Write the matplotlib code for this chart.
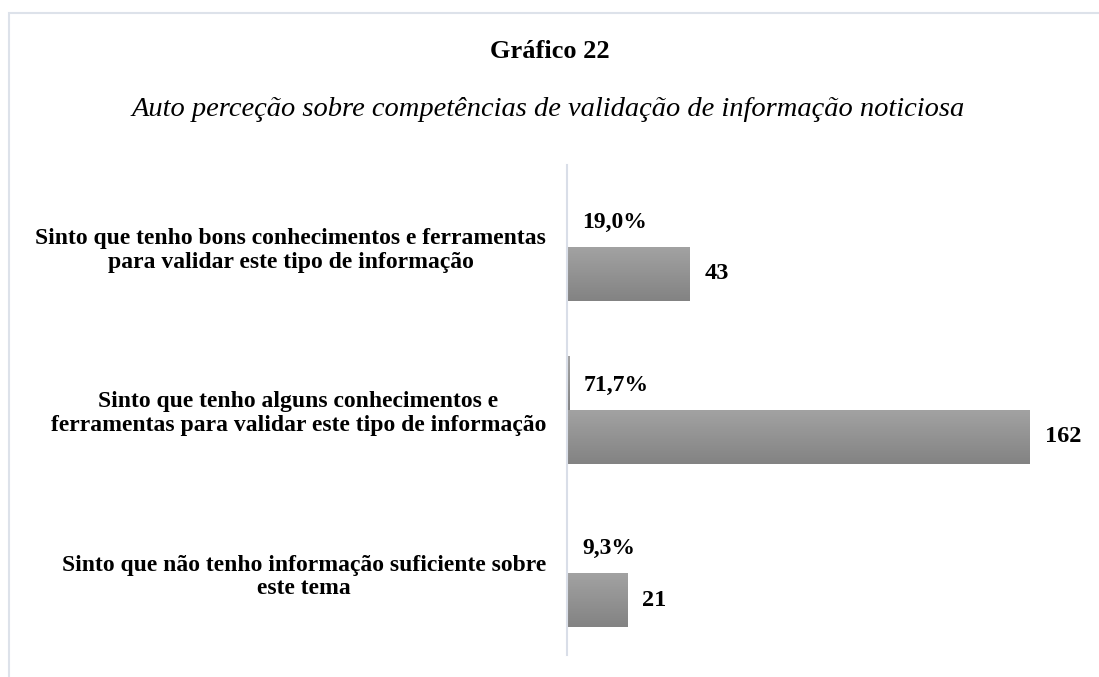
import numpy as np
import matplotlib.pyplot as plt
from matplotlib.patches import Rectangle

plt.rcParams['font.family'] = ['Liberation Serif', 'DejaVu Serif']

categorias = [
    "Sinto que tenho bons conhecimentos e ferramentas\npara validar este tipo de informação",
    "Sinto que tenho alguns conhecimentos e\nferramentas para validar este tipo de informação",
    "Sinto que não tenho informação suficiente sobre\neste tema",
]
contagens = [43, 162, 21]
percentagens = [0.190, 0.717, 0.093]
rotulos_pct = ["19,0%", "71,7%", "9,3%"]

W, H = 1099, 677
fig = plt.figure(figsize=(W / 100, H / 100), dpi=100)

# moldura clara do grafico
fig.patches.append(Rectangle((9 / W, -0.2), 1.2, 1.2 - 13 / H, transform=fig.transFigure,
                             fill=False, edgecolor='#dde2ea', linewidth=1.5))

fig.text(550 / W, 1 - 51 / H, "Gráfico 22", ha='center', va='center',
         fontsize=19, fontweight='bold')
fig.text(548 / W, 1 - 109 / H,
         "Auto perceção sobre competências de validação de informação noticiosa",
         ha='center', va='center', fontsize=20.5, style='italic')

ax = fig.add_axes([567 / W, 1 - 655 / H, 500 / W, 490 / H])
xmax = 500 / 2.858
ax.set_xlim(0, xmax)
ax.set_ylim(2.5, -0.5)

# gradiente vertical das barras
grad = np.linspace(0, 1, 64).reshape(-1, 1)
cmap = plt.matplotlib.colors.LinearSegmentedColormap.from_list('g', ['#a2a2a2', '#838383'])
alt = 0.33

def barra(y0, largura):
    ax.imshow(grad, cmap=cmap, aspect='auto', extent=(0, largura, y0 + alt, y0),
              interpolation='bilinear', zorder=2)

for i in range(len(categorias)):
    barra(i - alt, percentagens[i])
    barra(i, contagens[i])
    ax.text(percentagens[i] + 15 / 2.858, i - alt / 2 + 0.015, rotulos_pct[i], ha='left',
            va='center', fontsize=17, fontweight='bold')
    ax.text(contagens[i] + 15 / 2.858, i + alt / 2, str(contagens[i]), ha='left', va='center',
            fontsize=17.5, fontweight='bold')

ax.set_yticks(range(len(categorias)))
ax.set_yticklabels(categorias, fontsize=17, fontweight='bold', multialignment='center',
                   linespacing=1.15)
ax.tick_params(axis='y', length=0, pad=15)
ax.set_xticks([])
for s in ['top', 'right', 'bottom']:
    ax.spines[s].set_visible(False)
ax.spines['left'].set_color('#d9dee8')
ax.spines['left'].set_linewidth(1.5)
ax.patch.set_alpha(0)

fig.savefig('out.png', dpi=100)
